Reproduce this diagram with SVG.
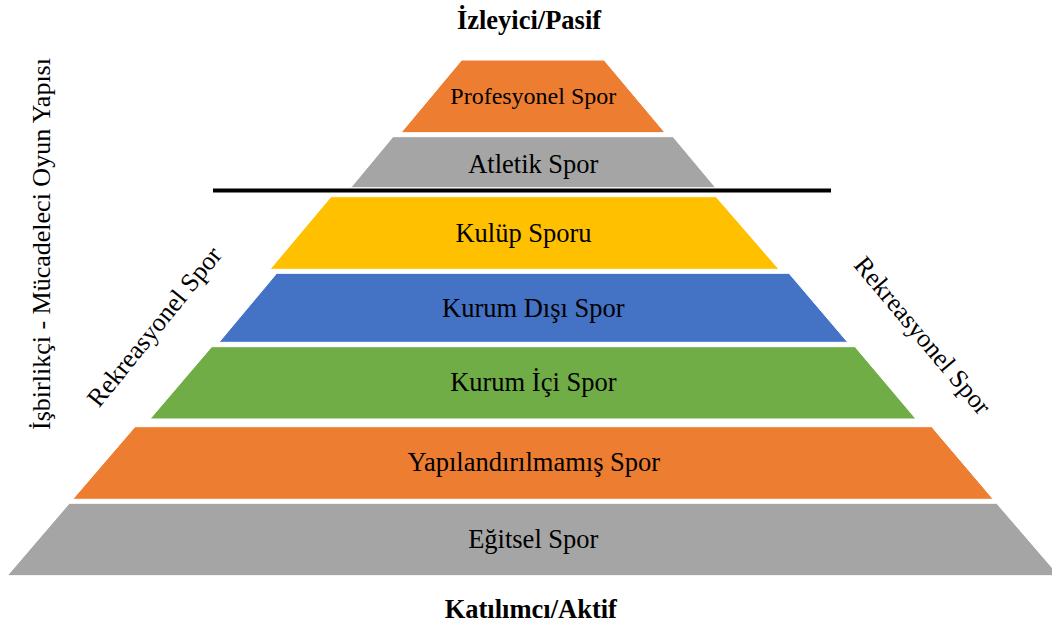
<svg xmlns="http://www.w3.org/2000/svg" width="1052" height="627" viewBox="0 0 1052 627">
<style>
.layer{stroke:#ffffff;stroke-width:1}
.lbl{font-family:"Liberation Serif","Times New Roman",serif;font-size:26.5px;fill:#000;text-anchor:middle}
.ttl{font-family:"Liberation Serif","Times New Roman",serif;font-size:26.5px;font-weight:bold;fill:#000;text-anchor:middle}
.side{font-family:"Liberation Serif","Times New Roman",serif;font-size:26px;fill:#000;text-anchor:middle}
</style>
<rect width="1052" height="627" fill="#ffffff"/>
<g id="layer-profesyonel">
<polygon class="layer" fill="#ED7D31" points="461.7,60 604,60 665,132.7 401,132.7"/>
<text class="lbl" x="533.3" y="104" style="font-size:24px">Profesyonel Spor</text>
</g>
<g id="layer-atletik">
<polygon class="layer" fill="#A5A5A5" points="393,136.7 673,136.7 715.7,187.7 350.7,187.7"/>
<text class="lbl" x="533.3" y="173.3">Atletik Spor</text>
</g>
<g id="layer-kulup">
<polygon class="layer" fill="#FFC000" points="331,196.7 716,196.7 779,269.3 270,269.3"/>
<text class="lbl" x="523.5" y="241.7">Kulüp Sporu</text>
</g>
<g id="layer-kurum-disi">
<polygon class="layer" fill="#4472C4" points="276.7,273.3 789,273.3 847.7,342.3 219,342.3"/>
<text class="lbl" x="533.3" y="317.3">Kurum Dışı Spor</text>
</g>
<g id="layer-kurum-ici">
<polygon class="layer" fill="#70AD47" points="211.7,346.7 855,346.7 916,419 150,419"/>
<text class="lbl" x="533.3" y="391">Kurum İçi Spor</text>
</g>
<g id="layer-yapilandirilmamis">
<polygon class="layer" fill="#ED7D31" points="135,426.7 931.7,426.7 993.3,499.3 72.7,499.3"/>
<text class="lbl" x="533.8" y="471">Yapılandırılmamış Spor</text>
</g>
<g id="layer-egitsel">
<polygon class="layer" fill="#A5A5A5" points="69.3,503.3 996.7,503.3 1059,575.7 7.3,575.7"/>
<text class="lbl" x="533.3" y="547.7">Eğitsel Spor</text>
</g>
<g id="connectors">
<line x1="213" y1="190.5" x2="831" y2="190.5" stroke="#000000" stroke-width="4"/>
</g>
<g id="title-top"><text class="ttl" x="529" y="29.3">İzleyici/Pasif</text></g>
<g id="title-bottom"><text class="ttl" x="530.8" y="617.7">Katılımcı/Aktif</text></g>
<g id="axis-left"><text class="side" transform="translate(50,244) rotate(-90)">İşbirlikçi - Mücadeleci Oyun Yapısı</text></g>
<g id="rekreasyonel-left"><text class="side" transform="translate(161,332) rotate(-51)">Rekreasyonel Spor</text></g>
<g id="rekreasyonel-right"><text class="side" transform="translate(916,341) rotate(50)">Rekreasyonel Spor</text></g>
</svg>
